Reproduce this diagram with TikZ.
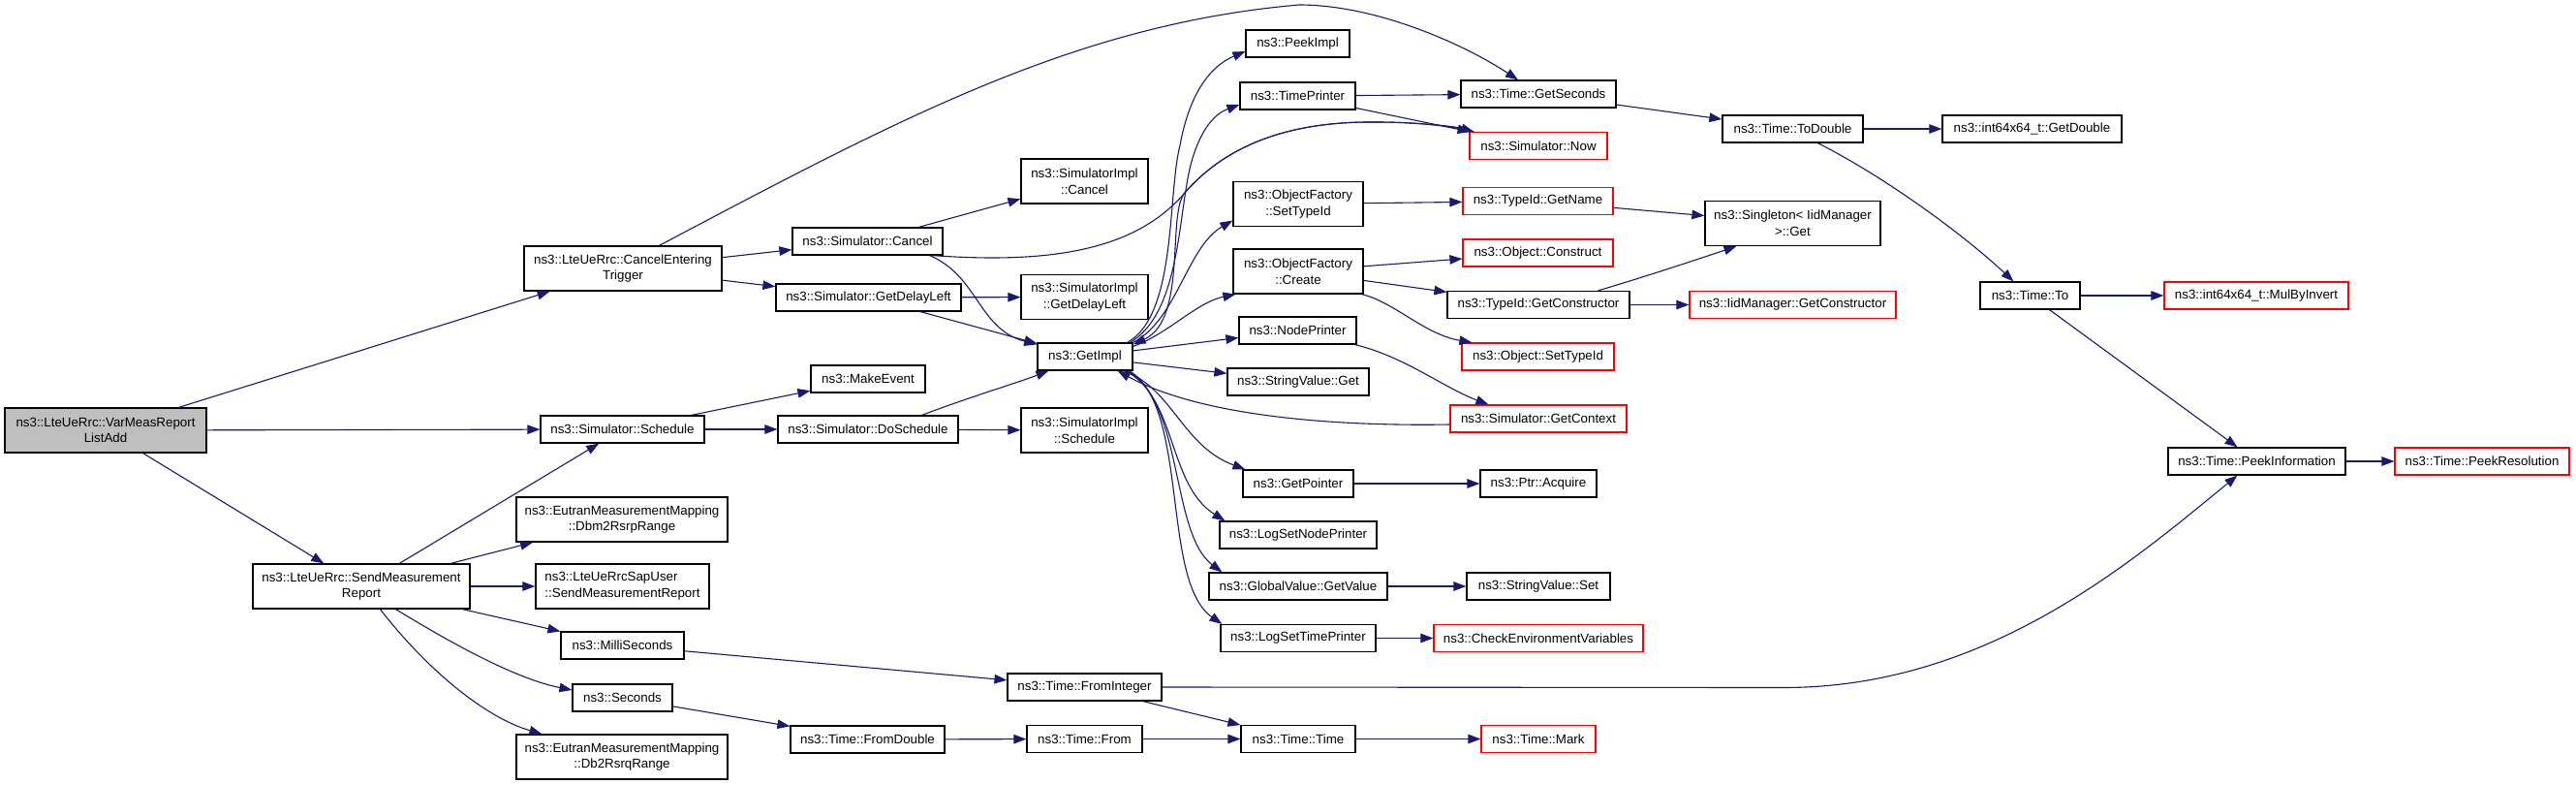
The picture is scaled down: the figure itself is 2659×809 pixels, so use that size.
\documentclass[tikz,border=0pt]{standalone}
\usepackage{fontspec}
\setmainfont{Liberation Sans}
\usetikzlibrary{arrows.meta}
\definecolor{edgeblue}{HTML}{191970}
\definecolor{rootgrey}{HTML}{BFBFBF}
\newcommand{\nfont}{\fontsize{13.33}{16.7}\selectfont}
\begin{document}
\begin{tikzpicture}[x=1pt,y=-1pt,
 fn/.style={draw=black, line width=1.2pt, inner sep=0pt, minimum height=28pt, align=center, font=\nfont},
 rn/.style={fn, draw=red},
 tall/.style={minimum height=46pt},
 cn/.style={draw=edgeblue, line width=1.1pt, -{Triangle[length=13pt,width=9.5pt]}},
]
\useasboundingbox (0,0) rectangle (2659,809);

\node[fn, tall, fill=rootgrey, minimum width=208pt] (root) at (109,444) {ns3::LteUeRrc::VarMeasReport\\ListAdd};
\node[fn, tall, minimum width=224pt] (smr) at (373,605) {ns3::LteUeRrc::SendMeasurement\\Report};
\node[fn, tall, minimum width=204pt] (cet) at (643,277) {ns3::LteUeRrc::CancelEntering\\Trigger};
\node[fn, minimum width=169pt] (sched) at (642.5,443) {ns3::Simulator::Schedule};
\node[fn, tall, minimum width=218pt] (dbm2) at (642,536) {ns3::EutranMeasurementMapping\\::Dbm2RsrpRange};
\node[fn, tall, minimum width=179pt, align=left] (sap) at (642.5,605) {ns3::LteUeRrcSapUser\\::SendMeasurementReport};
\node[fn, minimum width=127pt] (milli) at (642.5,666) {ns3::MilliSeconds};
\node[fn, minimum width=103pt] (secs) at (642.5,720) {ns3::Seconds};
\node[fn, tall, minimum width=218pt] (db2) at (642,781) {ns3::EutranMeasurementMapping\\::Db2RsrqRange};
\node[fn, minimum width=155pt] (cancel) at (895.5,249) {ns3::Simulator::Cancel};
\node[fn, minimum width=191pt] (gdl) at (896.5,307) {ns3::Simulator::GetDelayLeft};
\node[fn, minimum width=118pt] (mkev) at (896,391) {ns3::MakeEvent};
\node[fn, minimum width=186pt] (dosch) at (896,443) {ns3::Simulator::DoSchedule};
\node[fn, minimum width=159pt] (fromdbl) at (895.5,763) {ns3::Time::FromDouble};
\node[fn, tall, minimum width=131pt] (sicancel) at (1119.5,187) {ns3::SimulatorImpl\\::Cancel};
\node[fn, tall, minimum width=131pt] (sigdl) at (1119.5,306.5) {ns3::SimulatorImpl\\::GetDelayLeft};
\node[fn, minimum width=98pt] (getimpl) at (1120,368) {ns3::GetImpl};
\node[fn, tall, minimum width=131pt] (sisched) at (1119.5,444) {ns3::SimulatorImpl\\::Schedule};
\node[fn, minimum width=159pt] (fromint) at (1119.5,709) {ns3::Time::FromInteger};
\node[fn, minimum width=119pt] (tfrom) at (1119.5,762.5) {ns3::Time::From};
\node[fn, minimum width=107pt] (peekimpl) at (1339.5,45) {ns3::PeekImpl};
\node[fn, minimum width=119pt] (timeprn) at (1339.5,99) {ns3::TimePrinter};
\node[fn, tall, minimum width=134pt] (oftype) at (1340,210.5) {ns3::ObjectFactory\\::SetTypeId};
\node[fn, tall, minimum width=134pt] (ofcreate) at (1340,280) {ns3::ObjectFactory\\::Create};
\node[fn, minimum width=121pt] (nodeprn) at (1339.5,341) {ns3::NodePrinter};
\node[fn, minimum width=146pt] (svget) at (1340,394) {ns3::StringValue::Get};
\node[fn, minimum width=114pt] (getptr) at (1340,499) {ns3::GetPointer};
\node[fn, minimum width=162pt] (lsnp) at (1340,552) {ns3::LogSetNodePrinter};
\node[fn, minimum width=184pt] (gvget) at (1340,605) {ns3::GlobalValue::GetValue};
\node[fn, minimum width=160pt] (lstp) at (1340,658.5) {ns3::LogSetTimePrinter};
\node[fn, minimum width=118pt] (ttime) at (1340,762.5) {ns3::Time::Time};
\node[fn, minimum width=160pt] (getsec) at (1588,97) {ns3::Time::GetSeconds};
\node[rn, minimum width=142pt] (now) at (1588,150.5) {ns3::Simulator::Now};
\node[rn, minimum width=155pt] (getname) at (1587.5,207.5) {ns3::TypeId::GetName};
\node[rn, minimum width=155pt] (construct) at (1587.5,261) {ns3::Object::Construct};
\node[fn, minimum width=188pt] (getctor) at (1588,314.5) {ns3::TypeId::GetConstructor};
\node[rn, minimum width=157pt] (objsettype) at (1587.5,368) {ns3::Object::SetTypeId};
\node[rn, minimum width=182pt] (getctx) at (1588,432) {ns3::Simulator::GetContext};
\node[fn, minimum width=120pt] (acquire) at (1588,499) {ns3::Ptr::Acquire};
\node[fn, minimum width=148pt] (svset) at (1588,605) {ns3::StringValue::Set};
\node[rn, minimum width=216pt] (checkenv) at (1588,658.5) {ns3::CheckEnvironmentVariables};
\node[rn, minimum width=118pt] (mark) at (1588,762.5) {ns3::Time::Mark};
\node[fn, minimum width=145pt] (todbl) at (1850.5,133) {ns3::Time::ToDouble};
\node[fn, tall, minimum width=181pt] (singleton) at (1850.5,230.5) {ns3::Singleton< IidManager\\>::Get};
\node[rn, minimum width=213pt] (iidctor) at (1850.5,314.5) {ns3::IidManager::GetConstructor};
\node[fn, minimum width=185pt] (getdbl) at (2097.5,133) {ns3::int64x64\_t::GetDouble};
\node[fn, minimum width=103pt] (timeto) at (2095.5,305) {ns3::Time::To};
\node[rn, minimum width=190pt] (mulbyinv) at (2329,305) {ns3::int64x64\_t::MulByInvert};
\node[fn, minimum width=183pt] (peekinfo) at (2329.5,476) {ns3::Time::PeekInformation};
\node[rn, minimum width=180pt] (peekres) at (2562,476) {ns3::Time::PeekResolution};

% root
\draw[cn] (root) -- (cet);
\draw[cn] (root) -- (sched);
\draw[cn] (root) -- (smr);
% CancelEnteringTrigger
\draw[cn] ([xshift=140pt]cet.north west) .. controls (931,121) and (1111,25) .. (1341,5) .. controls (1420,5) and (1510,45) .. ([xshift=-21pt]getsec.north);
\draw[cn] (cet) -- (cancel);
\draw[cn] (cet) -- (gdl);
% Schedule
\draw[cn] (sched) -- (mkev);
\draw[cn] (sched) -- (dosch);
% SendMeasurementReport
\draw[cn] (smr) -- (sched);
\draw[cn] (smr) -- (dbm2);
\draw[cn] (smr) -- (sap);
\draw[cn] (smr) -- (milli);
\draw[cn] ([xshift=148pt]smr.south west) .. controls (460,660) and (530,700) .. ([yshift=8pt]secs.west);
\draw[cn] ([xshift=132pt]smr.south west) .. controls (440,690) and (500,740) .. ([xshift=27pt]db2.north west);
% Simulator::Cancel
\draw[cn] (cancel) -- (sicancel);
\draw[cn] ([xshift=-14pt]cancel.south east) .. controls (1010,285) and (1010,340) .. ([yshift=-2pt]getimpl.north west);
\draw[cn] ([xshift=-11pt]cancel.south east) .. controls (1080,272) and (1170,260) .. (1222,200) .. controls (1265,150) and (1330,125) .. (1420,126) .. controls (1460,126) and (1500,130) .. ([xshift=5pt]now.north west);
% GetDelayLeft, DoSchedule
\draw[cn] (gdl) -- (sigdl);
\draw[cn] (gdl) -- (getimpl);
\draw[cn] (dosch) -- (sisched);
\draw[cn] ([xshift=149pt]dosch.north west) .. controls (1000,410) and (1050,395) .. ([xshift=12pt]getimpl.south west);
% GetImpl
\draw[cn] ([xshift=-6pt]getimpl.north east) .. controls (1215,325) and (1205,200) .. (1218,150) .. controls (1228,95) and (1250,68) .. ([yshift=-8pt]peekimpl.west);
\draw[cn] ([xshift=-3pt]getimpl.north east) .. controls (1222,320) and (1215,210) .. (1232,160) .. controls (1242,130) and (1255,117) .. ([yshift=-9pt]timeprn.west);
\draw[cn] (getimpl.north east) .. controls (1215,330) and (1225,255) .. ([yshift=-17pt]oftype.west);
\draw[cn] ([yshift=-4pt]getimpl.north east) .. controls (1205,345) and (1235,312) .. ([xshift=3pt]ofcreate.south west);
\draw[cn] (getimpl) -- (nodeprn);
\draw[cn] (getimpl) -- (svget);
\draw[cn] ([xshift=-10pt]getimpl.south east) .. controls (1210,400) and (1220,460) .. ([xshift=3pt]getptr.north west);
\draw[cn] ([xshift=-8pt]getimpl.south east) .. controls (1215,410) and (1205,500) .. ([xshift=6pt]lsnp.north west);
\draw[cn] ([xshift=-6pt]getimpl.south east) .. controls (1222,415) and (1208,550) .. ([xshift=14pt]gvget.north west);
\draw[cn] ([xshift=-4pt]getimpl.south east) .. controls (1228,420) and (1198,600) .. ([xshift=2pt]lstp.north west);
% back edges into GetImpl
\draw[cn] ([yshift=-6pt]getctx.west) .. controls (1380,440) and (1240,430) .. ([xshift=-16pt]getimpl.south east);
\draw[cn] ([xshift=5pt]now.north west) .. controls (1500,130) and (1460,126) .. (1420,126) .. controls (1330,125) and (1265,150) .. (1222,200) .. controls (1205,225) and (1225,330) .. ([yshift=-2pt]getimpl.north east);
% column 5
\draw[cn] (timeprn) -- (getsec);
\draw[cn] (timeprn) -- (now);
\draw[cn] ([xshift=-2pt]nodeprn.south east) .. controls (1450,368) and (1490,400) .. ([xshift=40pt]getctx.north west);
\draw[cn] (oftype) -- (getname);
\draw[cn] (ofcreate) -- (construct);
\draw[cn] (ofcreate) -- (getctor);
\draw[cn] ([xshift=-2pt]ofcreate.south east) .. controls (1440,312) and (1470,345) .. ([xshift=11pt]objsettype.north west);
\draw[cn] (getptr) -- (acquire);
\draw[cn] (gvget) -- (svset);
\draw[cn] (lstp) -- (checkenv);
% column 6+
\draw[cn] (getname) -- (singleton);
\draw[cn] ([xshift=156pt]getctor.north west) .. controls (1700,285) and (1760,265) .. ([xshift=33pt]singleton.south west);
\draw[cn] (getctor) -- (iidctor);
\draw[cn] (getsec) -- (todbl);
\draw[cn] (todbl) -- (getdbl);
\draw[cn] ([xshift=99pt]todbl.south west) .. controls (1950,185) and (2030,245) .. ([xshift=35pt]timeto.north west);
\draw[cn] (timeto) -- (mulbyinv);
\draw[cn] (timeto) -- (peekinfo);
\draw[cn] (peekinfo) -- (peekres);
% time chain
\draw[cn] (milli) -- (fromint);
\draw[cn] (secs) -- (fromdbl);
\draw[cn] (fromdbl) -- (tfrom);
\draw[cn] (fromint) -- (ttime);
\draw[cn] (tfrom) -- (ttime);
\draw[cn] (ttime) -- (mark);
\draw[cn] (fromint.east) -- (1840,709.5) .. controls (2050,710) and (2200,580) .. ([xshift=72pt]peekinfo.south west);
\end{tikzpicture}
\end{document}
